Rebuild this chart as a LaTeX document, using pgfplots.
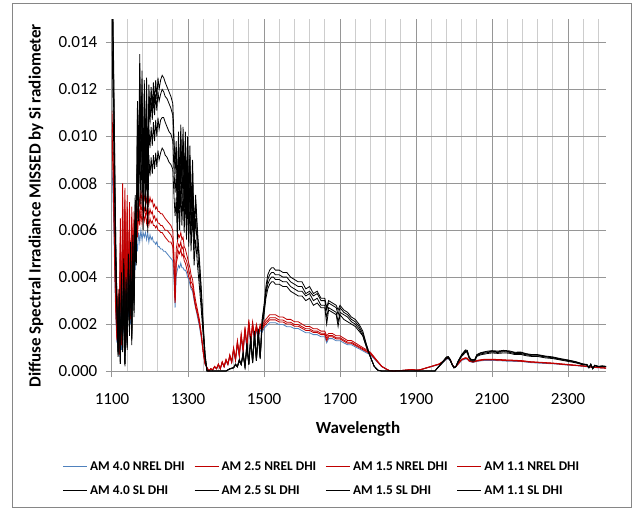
\documentclass[border=0pt]{standalone}
\usepackage{fontspec}
\setmainfont{Carlito}
\usepackage{pgfplots}
\pgfplotsset{compat=1.18}
\usepackage{pgfplotstable}

\definecolor{nrelblue}{RGB}{79,129,189}
\definecolor{nrelred}{RGB}{192,0,0}
\definecolor{gridmajor}{RGB}{150,150,150}
\definecolor{gridminor}{RGB}{205,205,205}
\definecolor{framegray}{RGB}{134,134,134}

% NREL diffuse irradiance missed, four air masses
\pgfplotstableread{
x n40 n25 n15 n11
1100 0.0086 0.0098 0.0103 0.0111
1102 0.0078 0.0088 0.0093 0.0100
1104 0.0066 0.0075 0.0079 0.0085
1106 0.0051 0.0057 0.0060 0.0065
1108 0.0035 0.0040 0.0042 0.0045
1110 0.0023 0.0026 0.0028 0.0030
1113 0.0012 0.0013 0.0014 0.0015
1116 0.0027 0.0031 0.0033 0.0035
1119 0.0006 0.0007 0.0007 0.0008
1122 0.0051 0.0057 0.0060 0.0065
1125 0.0009 0.0011 0.0011 0.0012
1128 0.0062 0.0070 0.0074 0.0080
1131 0.0016 0.0018 0.0019 0.0020
1134 0.0061 0.0069 0.0073 0.0078
1137 0.0012 0.0013 0.0014 0.0015
1140 0.0059 0.0066 0.0070 0.0075
1143 0.0023 0.0026 0.0028 0.0030
1146 0.0056 0.0063 0.0067 0.0072
1149 0.0020 0.0022 0.0023 0.0025
1152 0.0055 0.0062 0.0065 0.0070
1155 0.0031 0.0035 0.0037 0.0040
1158 0.0053 0.0060 0.0063 0.0068
1161 0.0043 0.0048 0.0051 0.0055
1164 0.0056 0.0063 0.0067 0.0072
1167 0.0051 0.0057 0.0060 0.0065
1170 0.0059 0.0067 0.0071 0.0076
1173 0.0055 0.0062 0.0065 0.0070
1176 0.0060 0.0068 0.0072 0.0077
1179 0.0056 0.0063 0.0067 0.0072
1182 0.0059 0.0067 0.0071 0.0076
1185 0.0057 0.0064 0.0068 0.0073
1188 0.0059 0.0067 0.0071 0.0076
1191 0.0056 0.0063 0.0067 0.0072
1194 0.0059 0.0066 0.0070 0.0075
1197 0.0055 0.0062 0.0066 0.0071
1200 0.0058 0.0065 0.0069 0.0074
1203 0.0056 0.0063 0.0067 0.0072
1206 0.0057 0.0064 0.0068 0.0073
1209 0.0055 0.0062 0.0065 0.0070
1212 0.0055 0.0062 0.0066 0.0071
1215 0.0054 0.0061 0.0064 0.0069
1218 0.0055 0.0062 0.0065 0.0070
1221 0.0053 0.0060 0.0063 0.0068
1224 0.0053 0.0060 0.0063 0.0068
1228 0.0052 0.0059 0.0062 0.0067
1232 0.0052 0.0059 0.0062 0.0067
1236 0.0051 0.0058 0.0061 0.0066
1240 0.0051 0.0057 0.0060 0.0065
1245 0.0050 0.0056 0.0060 0.0064
1250 0.0049 0.0055 0.0059 0.0063
1255 0.0048 0.0055 0.0058 0.0062
1260 0.0047 0.0053 0.0056 0.0060
1263 0.0039 0.0044 0.0047 0.0050
1266 0.0027 0.0029 0.0030 0.0031
1269 0.0041 0.0046 0.0048 0.0052
1272 0.0043 0.0048 0.0051 0.0055
1275 0.0045 0.0051 0.0054 0.0058
1278 0.0044 0.0050 0.0053 0.0057
1281 0.0046 0.0052 0.0055 0.0059
1284 0.0044 0.0049 0.0052 0.0056
1287 0.0044 0.0050 0.0053 0.0057
1290 0.0043 0.0047 0.0049 0.0053
1293 0.0043 0.0046 0.0048 0.0052
1296 0.0042 0.0044 0.0047 0.0050
1299 0.0040 0.0042 0.0045 0.0048
1302 0.0039 0.0040 0.0043 0.0046
1305 0.0037 0.0039 0.0041 0.0044
1308 0.0035 0.0036 0.0038 0.0041
1312 0.0034 0.0035 0.0037 0.0039
1316 0.0030 0.0031 0.0032 0.0034
1320 0.0027 0.0027 0.0028 0.0030
1325 0.0023 0.0024 0.0025 0.0026
1330 0.0019 0.0020 0.0021 0.0022
1335 0.0014 0.0015 0.0015 0.0016
1340 0.0008 0.0008 0.0008 0.0009
1345 0.0003 0.0003 0.0003 0.0003
1355 0 0 0 0
1360 0.00009 0.00009 0.0001 0.0001
1365 0.00004 0.00005 0.00005 0.00005
1370 0.00017 0.00018 0.00019 0.0002
1375 0.00009 0.00009 0.0001 0.0001
1380 0.00026 0.00028 0.00029 0.0003
1385 0.00009 0.00009 0.0001 0.0001
1390 0.00035 0.00037 0.00038 0.0004
1395 0.00017 0.00018 0.00019 0.0002
1400 0.00044 0.00046 0.00048 0.0005
1405 0.00026 0.00028 0.00029 0.0003
1410 0.00061 0.00064 0.00067 0.0007
1415 0.00035 0.00037 0.00038 0.0004
1420 0.00087 0.00092 0.00095 0.0010
1425 0.00044 0.00046 0.00048 0.0005
1430 0.00113 0.0012 0.00124 0.0013
1435 0.00061 0.00064 0.00067 0.0007
1440 0.00139 0.00147 0.00152 0.0016
1445 0.00078 0.00083 0.00086 0.0009
1450 0.00165 0.00175 0.00181 0.0019
1455 0.00096 0.00101 0.00105 0.0011
1460 0.00191 0.00202 0.00209 0.0022
1465 0.00113 0.0012 0.00124 0.0013
1470 0.00183 0.00193 0.002 0.0021
1475 0.00131 0.00138 0.00143 0.0015
1480 0.00174 0.00184 0.0019 0.0020
1485 0.00139 0.00147 0.00152 0.0016
1490 0.00174 0.00184 0.0019 0.0020
1495 0.00165 0.00175 0.00181 0.0019
1500 0.00181 0.00191 0.00198 0.0021
1505 0.0019 0.002 0.0021 0.0022
1510 0.00198 0.00209 0.00217 0.0023
1515 0.00206 0.00218 0.00227 0.0024
1520 0.00206 0.00218 0.00227 0.0024
1530 0.00206 0.00218 0.00227 0.0024
1540 0.00198 0.00209 0.00217 0.0023
1550 0.00198 0.00209 0.00217 0.0023
1560 0.00189 0.002 0.00208 0.0022
1570 0.00189 0.002 0.00208 0.0022
1580 0.00181 0.00191 0.00198 0.0021
1590 0.00181 0.00191 0.00198 0.0021
1600 0.00172 0.00182 0.00189 0.0020
1610 0.00163 0.00173 0.0018 0.0019
1620 0.00163 0.00173 0.0018 0.0019
1630 0.00155 0.00164 0.0017 0.0018
1640 0.00155 0.00164 0.0017 0.0018
1650 0.00146 0.00155 0.00161 0.0017
1660 0.00146 0.00155 0.00161 0.0017
1665 0.0012 0.0013 0.0014 0.0015
1670 0.00138 0.00146 0.00151 0.0016
1680 0.00138 0.00146 0.00151 0.0016
1690 0.00129 0.00137 0.00142 0.0015
1700 0.00129 0.00137 0.00142 0.0015
1710 0.0012 0.00127 0.00132 0.0014
1720 0.00112 0.00118 0.00123 0.0013
1730 0.00112 0.00118 0.00123 0.0013
1740 0.00103 0.00109 0.00113 0.0012
1750 0.00095 0.001 0.00104 0.0011
1760 0.00086 0.00091 0.00095 0.0010
1770 0.00077 0.00082 0.00085 0.0009
1780 0.00069 0.00073 0.00076 0.0008
1790 0.00052 0.00055 0.00057 0.0006
1800 0.00035 0.00037 0.00038 0.0004
1810 0.00018 0.00019 0.0002 0.0002
1820 0.00009 0.0001 0.0001 0.0001
1830 0.00002 0.00002 0.00002 0.00002
1840 0 0 0 0
1860 0.00002 0.00002 0.00002 0.00002
1880 0.00004 0.00005 0.00005 0.00005
1890 0.00005 0.00006 0.00006 0.00006
1900 0.00004 0.00004 0.00004 0.00004
1910 0.00005 0.00005 0.00005 0.00005
1920 0.00009 0.00009 0.0001 0.0001
1930 0.00014 0.00014 0.00015 0.00015
1940 0.00018 0.00019 0.00019 0.0002
1950 0.00023 0.00024 0.00024 0.00025
1960 0.00027 0.00028 0.00029 0.0003
1970 0.00036 0.00038 0.00039 0.0004
1980 0.0005 0.00052 0.00053 0.00055
1985 0.00052 0.00055 0.00056 0.00058
1990 0.00045 0.00047 0.00049 0.0005
1995 0.00027 0.00028 0.00029 0.0003
2000 0.00014 0.00014 0.00015 0.00015
2005 0.00018 0.00019 0.00019 0.0002
2010 0.00027 0.00028 0.00029 0.0003
2020 0.00045 0.00047 0.00049 0.0005
2030 0.00051 0.00054 0.00055 0.00057
2035 0.0005 0.00052 0.00053 0.00055
2040 0.00041 0.00042 0.00044 0.00045
2050 0.00036 0.00038 0.00039 0.0004
2060 0.00041 0.00042 0.00044 0.00045
2070 0.00043 0.00045 0.00047 0.00048
2080 0.00045 0.00047 0.00049 0.0005
2100 0.00045 0.00047 0.00049 0.0005
2120 0.00044 0.00046 0.00048 0.00049
2140 0.00042 0.00044 0.00046 0.00047
2160 0.00041 0.00043 0.00045 0.00046
2180 0.0004 0.00041 0.00043 0.00044
2200 0.00036 0.00038 0.00039 0.0004
2220 0.00034 0.00036 0.00037 0.00038
2240 0.00032 0.00034 0.00035 0.00036
2260 0.00031 0.00032 0.00033 0.00034
2280 0.00028 0.00029 0.0003 0.00031
2300 0.00025 0.00026 0.00027 0.00028
2320 0.00023 0.00024 0.00024 0.00025
2340 0.0002 0.00021 0.00021 0.00022
2360 0.00016 0.00017 0.00017 0.00018
2380 0.00014 0.00014 0.00015 0.00015
2400 0.00012 0.00012 0.00013 0.00013
}\nreltable

% SL diffuse irradiance missed, same four air masses
\pgfplotstableread{
x s40 s25 s15 s11
1100 0.0150 0.0172 0.0191 0.0200
1102 0.0120 0.0138 0.0153 0.0160
1104 0.0101 0.0116 0.0129 0.0135
1106 0.0083 0.0095 0.0105 0.0110
1108 0.0060 0.0069 0.0076 0.0080
1110 0.0041 0.0047 0.0053 0.0055
1113 0.0023 0.0026 0.0029 0.0030
1116 0.0006 0.0007 0.0008 0.0008
1119 0.0026 0.0030 0.0033 0.0035
1122 0.0003 0.0003 0.0004 0.0004
1125 0.0032 0.0036 0.0040 0.0042
1128 0.0008 0.0009 0.0010 0.0010
1131 0.0036 0.0041 0.0046 0.0048
1134 0.0002 0.0003 0.0003 0.0003
1137 0.0030 0.0034 0.0038 0.0040
1140 0.0009 0.0010 0.0011 0.0012
1143 0.0038 0.0043 0.0048 0.0050
1146 0.0015 0.0017 0.0019 0.0020
1149 0.0041 0.0047 0.0053 0.0055
1152 0.0011 0.0013 0.0014 0.0015
1155 0.0044 0.0050 0.0055 0.0058
1158 0.0023 0.0026 0.0029 0.0030
1161 0.0056 0.0065 0.0072 0.0075
1164 0.0045 0.0052 0.0057 0.0060
1167 0.0086 0.0099 0.0110 0.0115
1170 0.0064 0.0073 0.0081 0.0085
1173 0.0101 0.0116 0.0129 0.0135
1176 0.0071 0.0082 0.0091 0.0095
1179 0.0096 0.0110 0.0122 0.0128
1182 0.0060 0.0069 0.0076 0.0080
1185 0.0093 0.0107 0.0118 0.0124
1188 0.0068 0.0077 0.0086 0.0090
1191 0.0094 0.0108 0.0119 0.0125
1194 0.0059 0.0067 0.0074 0.0078
1197 0.0092 0.0105 0.0117 0.0122
1200 0.0083 0.0095 0.0105 0.0110
1203 0.0091 0.0104 0.0116 0.0121
1206 0.0084 0.0096 0.0107 0.0112
1209 0.0092 0.0106 0.0117 0.0123
1212 0.0086 0.0098 0.0109 0.0114
1215 0.0093 0.0107 0.0118 0.0124
1218 0.0087 0.0100 0.0111 0.0116
1221 0.0094 0.0108 0.0119 0.0125
1224 0.0090 0.0103 0.0115 0.0120
1228 0.0093 0.0107 0.0118 0.0124
1232 0.0095 0.0108 0.0120 0.0126
1236 0.0094 0.0108 0.0119 0.0125
1240 0.0092 0.0106 0.0117 0.0123
1245 0.0091 0.0104 0.0116 0.0121
1250 0.0089 0.0102 0.0114 0.0119
1255 0.0088 0.0101 0.0112 0.0117
1260 0.0086 0.0098 0.0109 0.0114
1263 0.0075 0.0086 0.0096 0.0100
1266 0.0066 0.0076 0.0084 0.0088
1269 0.0074 0.0084 0.0094 0.0098
1272 0.0056 0.0065 0.0072 0.0075
1275 0.0077 0.0088 0.0097 0.0102
1278 0.0060 0.0069 0.0076 0.0080
1281 0.0079 0.0090 0.0100 0.0105
1284 0.0062 0.0071 0.0078 0.0082
1287 0.0078 0.0089 0.0099 0.0104
1290 0.0059 0.0067 0.0074 0.0078
1293 0.0077 0.0088 0.0097 0.0102
1296 0.0056 0.0065 0.0072 0.0075
1299 0.0075 0.0086 0.0096 0.0100
1302 0.0053 0.0060 0.0067 0.0070
1305 0.0072 0.0083 0.0092 0.0096
1308 0.0051 0.0058 0.0065 0.0068
1312 0.0068 0.0077 0.0086 0.0090
1316 0.0045 0.0052 0.0057 0.0060
1320 0.0056 0.0065 0.0072 0.0075
1325 0.0045 0.0052 0.0057 0.0060
1330 0.0036 0.0041 0.0046 0.0048
1335 0.0026 0.0030 0.0033 0.0035
1340 0.0015 0.0017 0.0019 0.0020
1345 0.0005 0.0006 0.0007 0.0007
1350 0 0 0 0
1400 0 0 0 0
1410 0.00008 0.00009 0.0001 0.0001
1420 0.00013 0.00014 0.00014 0.00015
1425 0.00026 0.00027 0.00029 0.0003
1430 0.00017 0.00018 0.00019 0.0002
1435 0.00043 0.00045 0.00048 0.0005
1440 0.00026 0.00027 0.00029 0.0003
1445 0.00068 0.00072 0.00076 0.0008
1450 0.00017 0.00018 0.00019 0.0002
1455 0.0010 0.00108 0.00114 0.0012
1460 0.00026 0.00027 0.00029 0.0003
1465 0.00128 0.00135 0.00143 0.0015
1470 0.00034 0.00036 0.00038 0.0004
1475 0.00145 0.00153 0.00162 0.0017
1480 0.00043 0.00045 0.00048 0.0005
1485 0.00153 0.00162 0.00171 0.0018
1490 0.00051 0.00054 0.00057 0.0006
1495 0.0019 0.0020 0.0021 0.0022
1500 0.0024 0.0025 0.0027 0.0028
1505 0.0031 0.0033 0.0034 0.0036
1510 0.0035 0.0037 0.0039 0.0041
1515 0.0037 0.0039 0.0041 0.0043
1520 0.0038 0.0040 0.0042 0.0044
1525 0.0038 0.0040 0.0042 0.0044
1530 0.0037 0.0039 0.0041 0.0043
1540 0.0037 0.0039 0.0041 0.0043
1550 0.0036 0.0038 0.0040 0.0042
1560 0.0036 0.0038 0.0040 0.0042
1570 0.0034 0.0036 0.0038 0.0040
1580 0.0033 0.0035 0.0037 0.0039
1590 0.0032 0.0034 0.0036 0.0038
1600 0.0032 0.0034 0.0036 0.0038
1610 0.0030 0.0032 0.0033 0.0035
1620 0.0031 0.0033 0.0034 0.0036
1630 0.0028 0.0030 0.0032 0.0033
1640 0.0029 0.0031 0.0033 0.0034
1650 0.0027 0.0028 0.0030 0.0031
1660 0.0027 0.0028 0.0030 0.0031
1665 0.0020 0.0023 0.0026 0.0027
1670 0.0026 0.0027 0.0029 0.0030
1680 0.0025 0.0026 0.0028 0.0029
1690 0.0024 0.0025 0.0027 0.0028
1695 0.0019 0.0021 0.0024 0.0026
1700 0.0024 0.0025 0.0027 0.0028
1710 0.0022 0.0024 0.0025 0.0026
1720 0.0021 0.0023 0.0024 0.0025
1730 0.0020 0.0021 0.0022 0.0023
1740 0.0019 0.0020 0.0021 0.0022
1750 0.0017 0.0018 0.0019 0.0020
1760 0.0015 0.0015 0.0016 0.0017
1770 0.0010 0.0010 0.0011 0.0011
1780 0.0006 0.0006 0.0006 0.0006
1790 0.0002 0.0002 0.0002 0.0002
1800 0.00003 0.00003 0.00003 0.00003
1810 0 0 0 0
1950 0 0 0 0
1955 0.0001 0.0001 0.0001 0.0001
1960 0.00018 0.00019 0.0002 0.0002
1970 0.00035 0.00037 0.00039 0.0004
1980 0.00053 0.00056 0.00058 0.0006
1985 0.00055 0.00058 0.0006 0.00062
1990 0.00044 0.00046 0.00048 0.0005
1995 0.00026 0.00028 0.00029 0.0003
2000 0.00013 0.00014 0.00015 0.00015
2005 0.00018 0.00018 0.00019 0.0002
2010 0.00035 0.00037 0.00039 0.0004
2020 0.00062 0.00065 0.00068 0.0007
2030 0.00079 0.00084 0.00087 0.0009
2035 0.00077 0.00082 0.00085 0.00088
2040 0.00053 0.00056 0.00058 0.0006
2045 0.00044 0.00047 0.00049 0.0005
2050 0.00042 0.00045 0.00047 0.00048
2055 0.00044 0.00047 0.00049 0.0005
2060 0.00062 0.00065 0.00068 0.0007
2070 0.00069 0.00073 0.00076 0.00078
2080 0.00072 0.00076 0.0008 0.00082
2090 0.00075 0.00079 0.00082 0.00085
2100 0.00077 0.00081 0.00084 0.00087
2115 0.00075 0.00079 0.00082 0.00085
2130 0.00077 0.00082 0.00085 0.00088
2145 0.00076 0.0008 0.00083 0.00086
2160 0.0007 0.00074 0.00078 0.0008
2175 0.00071 0.00075 0.00079 0.00081
2190 0.00065 0.00069 0.00072 0.00074
2205 0.00062 0.00065 0.00068 0.0007
2220 0.00062 0.00065 0.00068 0.0007
2240 0.00056 0.0006 0.00062 0.00064
2260 0.00053 0.00056 0.00058 0.0006
2280 0.00047 0.00049 0.00051 0.00053
2300 0.00041 0.00044 0.00046 0.00047
2320 0.00035 0.00037 0.00039 0.0004
2340 0.00026 0.00028 0.00029 0.0003
2350 0.00025 0.00026 0.00027 0.00028
2355 0.00013 0.00014 0.00015 0.00015
2360 0.00026 0.00028 0.00029 0.0003
2365 0.0001 0.0001 0.0001 0.0001
2370 0.00022 0.00023 0.00024 0.00025
2380 0.00018 0.00019 0.00019 0.0002
2390 0.00019 0.0002 0.00021 0.00022
2400 0.00018 0.00019 0.00019 0.0002
}\sltable

\begin{document}
\begin{tikzpicture}
\useasboundingbox (0,0) rectangle (476.25pt,-384pt);
\draw[framegray, line width=0.75pt] (9pt,-2.25pt) rectangle (473.5pt,-380.5pt);
\begin{axis}[
  at={(84pt,-278.25pt)}, anchor=south west,
  scale only axis, width=370.5pt, height=264pt,
  xmin=1100, xmax=2400, ymin=0, ymax=0.015,
  axis x line*=bottom, axis y line*=left,
  axis line style={-, draw=gridmajor, line width=0.75pt},
  xtick={1100,1300,1500,1700,1900,2100,2300},
  minor xtick={1140,1180,1220,1260,1340,1380,1420,1460,1540,1580,1620,1660,1740,1780,1820,1860,1940,1980,2020,2060,2140,2180,2220,2260,2340,2380},
  ytick={0,0.002,0.004,0.006,0.008,0.010,0.012,0.014},
  grid=both,
  major grid style={draw=gridmajor, line width=0.75pt},
  minor grid style={draw=gridminor, line width=0.75pt},
  tick align=outside,
  major tick length=4.5pt, minor tick length=0pt,
  tick style={draw=gridmajor, line width=0.75pt},
  scaled y ticks=false,
  tick label style={font=\fontsize{12.75}{15}\selectfont, /pgf/number format/assume math mode=true},
  xticklabel style={/pgf/number format/1000 sep={}, yshift=-9pt},
  yticklabel style={/pgf/number format/fixed, /pgf/number format/fixed zerofill, /pgf/number format/precision=3, xshift=-3pt},
  xlabel={Wavelength},
  ylabel={Diffuse Spectral Irradiance MISSED by Si radiometer},
  label style={font=\fontsize{12.75}{15}\selectfont\bfseries},
  xlabel style={at={(axis description cs:0.498,-0.165)}, anchor=center},
  ylabel style={at={(axis description cs:-0.1538,0.469)}, anchor=center, rotate=0},
  legend columns=4,
  legend cell align=left,
  legend image code/.code={\draw[#1] (0pt,0pt) -- (18pt,0pt);},
  legend style={at={(axis description cs:-0.1085,-0.241)}, anchor=north west, draw=none, fill=none,
    font=\fontsize{10}{12}\selectfont\bfseries, row sep=6pt,
    /tikz/every even column/.append style={column sep=5pt}},
  every axis plot/.append style={line width=0.6pt},
]
\addplot[nrelblue] table[x=x, y=n40] {\nreltable};
\addlegendentry{AM 4.0 NREL DHI}
\addplot[nrelred] table[x=x, y=n25] {\nreltable};
\addlegendentry{AM 2.5 NREL DHI}
\addplot[nrelred] table[x=x, y=n15] {\nreltable};
\addlegendentry{AM 1.5 NREL DHI}
\addplot[nrelred] table[x=x, y=n11] {\nreltable};
\addlegendentry{AM 1.1 NREL DHI}
\addplot[black] table[x=x, y=s40] {\sltable};
\addlegendentry{AM 4.0 SL DHI}
\addplot[black] table[x=x, y=s25] {\sltable};
\addlegendentry{AM 2.5 SL DHI}
\addplot[black] table[x=x, y=s15] {\sltable};
\addlegendentry{AM 1.5 SL DHI}
\addplot[black] table[x=x, y=s11] {\sltable};
\addlegendentry{AM 1.1 SL DHI}
\end{axis}
\end{tikzpicture}
\end{document}
